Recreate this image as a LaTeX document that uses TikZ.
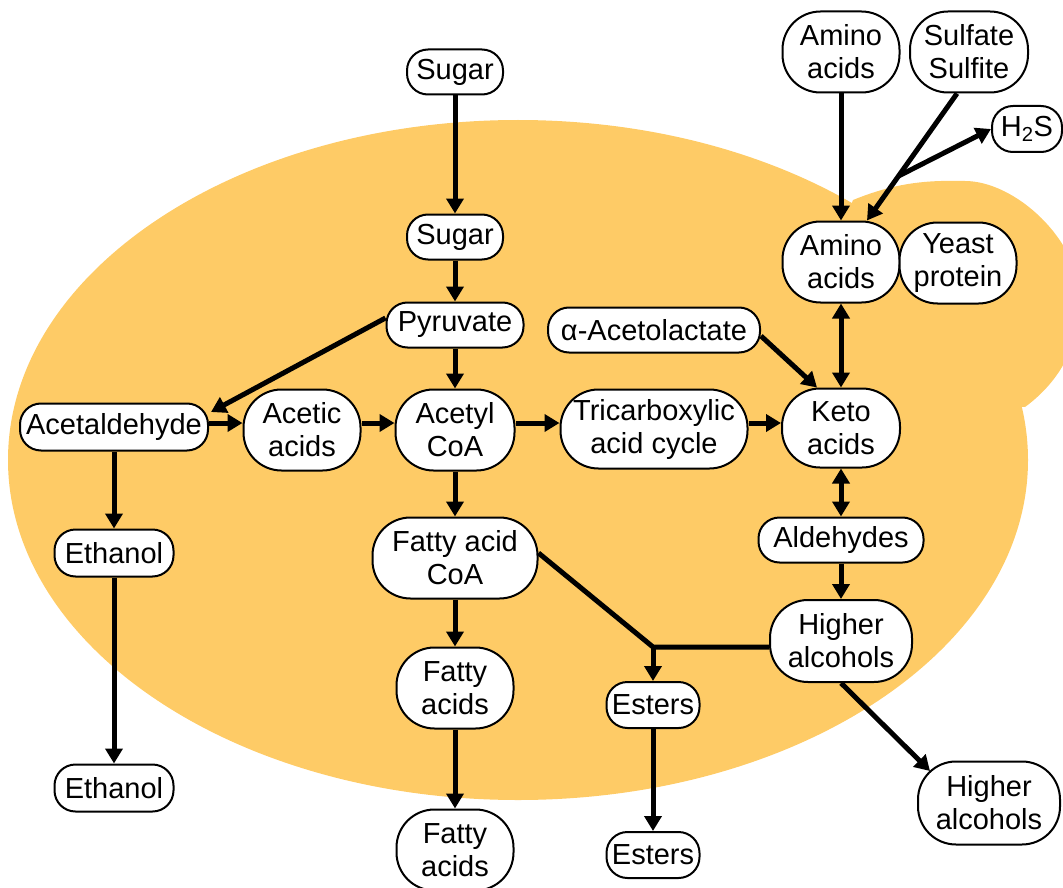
\documentclass[tikz,border=0pt]{standalone}
\usepackage{fontspec}
\setmainfont{Liberation Sans}
\usetikzlibrary{arrows.meta,calc}
\definecolor{yeast}{RGB}{254,203,102}
\begin{document}
\begin{tikzpicture}[x=1pt,y=-1pt,
  box/.style={draw,line width=2pt,fill=white,rectangle,inner sep=0pt,align=center,font=\fontsize{29}{33}\selectfont},
  pill/.style={box,rounded corners=21pt,minimum height=45pt},
  blob/.style={box,rounded corners=38pt,minimum height=81pt},
  arr/.style={line width=5pt,-{Triangle[length=15pt,width=17pt]}},
  darr/.style={line width=5pt,{Triangle[length=15pt,width=17pt]}-{Triangle[length=15pt,width=17pt]}},
  link/.style={line width=5pt,line join=miter}]
\useasboundingbox (0,0) rectangle (1063,888);
% yeast cell
\fill[yeast] (518,460) ellipse [x radius=510pt, y radius=340pt];
\fill[yeast] (853,200) .. controls (895,183) and (925,180) .. (965,181)
  .. controls (1015,181) and (1080,240) .. (1080,300)
  .. controls (1080,350) and (1055,385) .. (1025,407)
  -- (900,400) -- (830,260) -- cycle;
% nodes
\node[pill,minimum width=96pt] (s1) at (455,72) {Sugar};
\node[pill,minimum width=96pt] (s2) at (455,237) {Sugar};
\node[pill,minimum width=137pt] (pyr) at (455,325) {Pyruvate};
\node[pill,minimum width=188pt,minimum height=47pt] (acet) at (114,427) {Acetaldehyde};
\node[blob,minimum width=117pt] (aca) at (302,430) {Acetic\\acids};
\node[blob,minimum width=119pt] (acoa) at (455,430) {Acetyl\\CoA};
\node[blob,minimum width=187pt,minimum height=79pt] (tca) at (654,429) {Tricarboxylic\\acid cycle};
\node[blob,minimum width=118pt,minimum height=79pt] (keto) at (841,428) {Keto\\acids};
\node[pill,minimum width=212pt] (acl) at (654,330) {α-Acetolactate};
\node[blob,minimum width=117pt] (ami) at (841,262) {Amino\\acids};
\node[blob,minimum width=117pt] (yp) at (958,263) {Yeast\\protein};
\node[blob,minimum width=117pt] (amt) at (841,52) {Amino\\acids};
\node[blob,minimum width=118pt] (sul) at (969,52) {Sulfate\\Sulfite};
\node[pill,minimum width=70pt,minimum height=46pt] (h2s) at (1027,129) {H\textsubscript{2}S};
\node[pill,minimum width=165pt] (ald) at (841,540) {Aldehydes};
\node[blob,minimum width=142pt,minimum height=82pt] (ha) at (841,641) {Higher\\alcohols};
\node[blob,minimum width=142pt,minimum height=83pt] (hao) at (989,803) {Higher\\alcohols};
\node[blob,minimum width=165pt] (fac) at (455,558) {Fatty acid\\CoA};
\node[blob,minimum width=117pt] (fa) at (455,688) {Fatty\\acids};
\node[blob,minimum width=117pt] (fao) at (455,850) {Fatty\\acids};
\node[pill,minimum width=93pt,minimum height=46pt] (est) at (653,705) {Esters};
\node[pill,minimum width=93pt,minimum height=46pt] (eso) at (653,855) {Esters};
\node[pill,minimum width=119pt,minimum height=47pt] (eth) at (114,553) {Ethanol};
\node[pill,minimum width=119pt,minimum height=47pt] (etho) at (114,788) {Ethanol};
% connectors
\draw[arr] (s1) -- (s2);
\draw[arr] (s2) -- (pyr);
\draw[arr] (pyr) -- (acoa);
\draw[arr] ([yshift=7pt]pyr.west) -- ([xshift=2pt,yshift=15pt]acet.east);
\coordinate (r1) at ([yshift=4pt]acet.east);
\draw[arr] (r1) -- (r1 -| aca.west);
\coordinate (r2) at ([yshift=7pt]aca.east);
\draw[arr] (r2) -- (r2 -| acoa.west);
\coordinate (r3) at ([yshift=7pt]acoa.east);
\draw[arr] (r3) -- (r3 -| tca.west);
\coordinate (r4) at ([yshift=6pt]tca.east);
\draw[arr] (r4) -- (r4 -| keto.west);
\draw[arr] (acoa) -- (fac);
\draw[arr] (fac) -- (fa);
\draw[arr] (fa) -- (fao);
\draw[arr] (acet) -- (eth);
\draw[arr] (eth) -- (etho);
\draw[darr] (keto) -- (ami);
\draw[darr] (keto) -- (ald);
\draw[arr] (ald) -- (ha);
\draw[arr] (amt) -- (ami);
\draw[arr] (est) -- (eso);
\draw[arr] ([yshift=-6pt]acl.east) -- ([xshift=-24pt]keto.north);
\draw[arr] (ha.south) -- ([xshift=-59pt,yshift=32pt]hao.center);
\coordinate (j) at (653,647);
\draw[link] ([yshift=5pt]fac.east) -- (j) -- (ha.west |- j);
\draw[arr] (j) -- (est);
\coordinate (sa) at ([xshift=-12pt]sul.south);
\coordinate (sb) at ([xshift=26pt]ami.north);
\coordinate (br) at ($(sa)!0.65!(sb)$);
\draw[arr] (sa) -- (sb);
\draw[arr] (br) -- (h2s.west);
\end{tikzpicture}
\end{document}
